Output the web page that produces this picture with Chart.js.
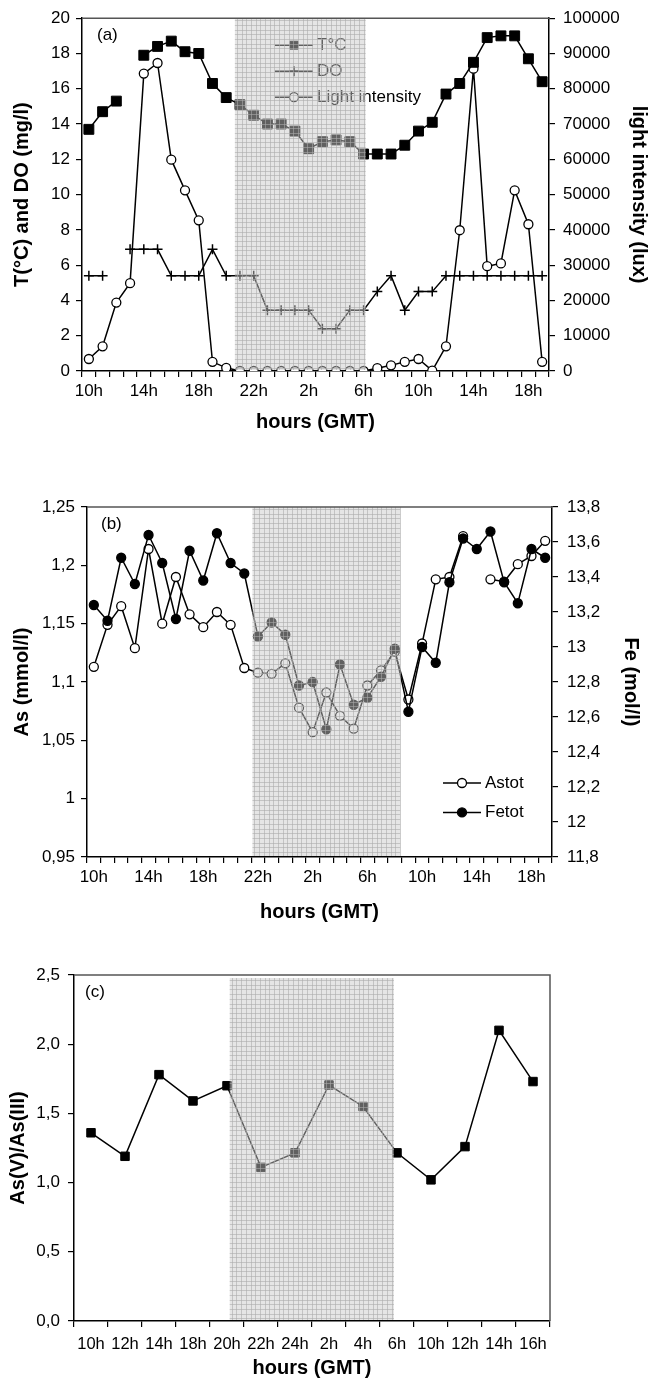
<!DOCTYPE html>
<html>
<head>
<meta charset="utf-8">
<script src="https://cdn.jsdelivr.net/npm/chart.js@4.4.0/dist/chart.umd.min.js"></script>
<style>
  body { margin: 0; background: #fff; }
  canvas { position: absolute; left: 0; }
</style>
</head>
<body>
<canvas id="chart-a" width="654" height="440" style="top:0px"></canvas>
<canvas id="chart-b" width="654" height="500" style="top:440px"></canvas>
<canvas id="chart-c" width="654" height="445" style="top:940px"></canvas>
<script>
//////////////////////////////////////////////// data
// (a) hourly, 10h day 1 -> 19h day 2
const hoursA = ['10h', '11h', '12h', '13h', '14h', '15h', '16h', '17h', '18h', '19h', '20h', '21h',
    '22h', '23h', '0h', '1h', '2h', '3h', '4h', '5h', '6h', '7h', '8h', '9h',
    '10h', '11h', '12h', '13h', '14h', '15h', '16h', '17h', '18h', '19h']
const tempA = [13.7, 14.7, 15.3, null, 17.9, 18.4, 18.7, 18.1, 18.0, 16.3, 15.5, 15.1,
    14.5, 14.0, 14.0, 13.6, 12.6, 13.0, 13.1, 13.0, 12.3, 12.3, 12.3, 12.8,
    13.6, 14.1, 15.7, 16.3, 17.5, 18.9, 19.0, 19.0, 17.7, 16.4]
const doA = [5.4, 5.4, null, 6.9, 6.9, 6.9, 5.4, 5.4, 5.4, 6.9, 5.4, 5.4,
    5.4, 3.45, 3.45, 3.45, 3.45, 2.4, 2.4, 3.45, 3.45, 4.5, 5.4, 3.45,
    4.5, 4.5, 5.4, 5.4, 5.4, 5.4, 5.4, 5.4, 5.4, 5.4]
const lightA = [3400, 7000, 19400, 24900, 84300, 87300, 59900, 51200, 42700, 2600, 900, 0,
    0, 0, 0, 0, 0, 0, 0, 0, 0, 800, 1600, 2600,
    3400, 100, 7000, 39900, 85700, 29700, 30500, 51200, 41600, 2600]
const nightA = [10.63, 20.15]

// (b)
const hoursB = hoursA
const asB = [1.113, 1.149, 1.165, 1.129, 1.214, 1.150, 1.190, 1.158, 1.147, 1.160, 1.149, 1.112,
    1.108, 1.107, 1.116, 1.078, 1.057, 1.091, 1.071, 1.060, 1.097, 1.110, 1.126, 1.085,
    1.133, 1.188, 1.190, 1.225, null, 1.188, 1.186, 1.201, 1.208, 1.221]
const feB = [13.24, 13.15, 13.51, 13.36, 13.64, 13.48, 13.16, 13.55, 13.38, 13.65, 13.48, 13.42,
    13.06, 13.14, 13.07, 12.78, 12.80, 12.53, 12.90, 12.67, 12.71, 12.83, 12.99, 12.63,
    13.00, 12.91, 13.37, 13.62, 13.56, 13.66, 13.37, 13.25, 13.56, 13.51]
const nightB = [11.6, 22.4]

// (c)
const hoursC = ['10h', '12h', '14h', '18h', '20h', '22h', '24h', '2h', '4h', '6h', '10h', '12h', '14h', '16h']
const ratioC = [1.36, 1.19, 1.78, 1.59, 1.70, 1.11, 1.215, 1.705, 1.55, 1.215, 1.02, 1.26, 2.10, 1.73]
const nightC = [4.08, 8.91]


//////////////////////////////////////////////// helpers
Chart.defaults.font.family = "'Liberation Sans', Arial, Helvetica, sans-serif"
Chart.defaults.color = '#000'

const fmtComma = v => String(Math.round(v * 1000) / 1000).replace('.', ',')
const fmtOne = v => v.toFixed(1).replace('.', ',')

function legendMark(ctx, ds, x0, x1, y) {
    ctx.strokeStyle = ds.borderColor
    ctx.lineWidth = ds.borderWidth
    ctx.beginPath(); ctx.moveTo(x0, y); ctx.lineTo(x1, y); ctx.stroke()
    ctx.fillStyle = ds.pointBackgroundColor || '#000'
    ctx.strokeStyle = ds.pointBorderColor
    ctx.lineWidth = ds.pointBorderWidth
    const r = ds.pointStyle === 'rect' ? ds.pointRadius * 0.8 : ds.pointRadius
    Chart.helpers.drawPoint(ctx, {
        pointStyle: ds.pointStyle, radius: r,
        borderWidth: ds.pointBorderWidth, rotation: 0
    }, (x0 + x1) / 2, y)
}

// night shading (drawn over the lines, so they turn grey), legend, frame, panel tag
const nightPlugin = {
    id: 'night',
    afterDatasetsDraw(chart, args, o) {
        const { ctx, chartArea: a } = chart
        const x = chart.scales.x
        ctx.save()
        if (o.legend) {
            const L = o.legend
            ctx.font = '17px ' + Chart.defaults.font.family
            ctx.textBaseline = 'middle'
            ctx.textAlign = 'left'
            L.items.forEach((idx, k) => {
                const ds = chart.data.datasets[idx]
                const y = a.top + L.top + k * L.gap
                const x0 = a.left + L.left
                legendMark(ctx, ds, x0, x0 + 38, y)
                ctx.fillStyle = '#000'
                ctx.fillText(ds.label, x0 + 42, y)
            })
        }
        const x0 = x.getPixelForValue(o.from)
        const x1 = x.getPixelForValue(o.to)
        const top = a.top + (o.inset || 0)
        const bot = a.bottom - 1
        ctx.fillStyle = 'rgba(200,200,200,0.48)'
        ctx.fillRect(x0, top, x1 - x0, bot - top)
        ctx.strokeStyle = 'rgba(170,170,170,0.58)'
        ctx.lineWidth = 1
        ctx.beginPath()
        for (let gx = x0 + 2; gx < x1; gx += 4.7) {
            const px = Math.round(gx) + 0.5
            ctx.moveTo(px, top); ctx.lineTo(px, bot)
        }
        for (let gy = top + 2; gy < bot; gy += 4.7) {
            const py = Math.round(gy) + 0.5
            ctx.moveTo(x0, py); ctx.lineTo(x1, py)
        }
        ctx.stroke()
        ctx.restore()
    },
    afterDraw(chart, args, o) {
        const { ctx, chartArea: a } = chart
        ctx.save()
        ctx.strokeStyle = '#555'
        ctx.lineWidth = 1.5
        ctx.beginPath()
        ctx.moveTo(a.left, a.top); ctx.lineTo(a.right, a.top)
        if (o.frameRight) { ctx.lineTo(a.right, a.bottom) }
        ctx.stroke()
        ctx.fillStyle = '#000'
        ctx.font = '17px ' + Chart.defaults.font.family
        ctx.textBaseline = 'middle'
        ctx.fillText(o.tag, a.left + o.tagX, a.top + 17)
        ctx.restore()
    }
}

function yAxis(pos, min, max, step, fmt, title, width, pad, titlePad) {
    return {
        position: pos, min: min, max: max,
        ticks: { stepSize: step, callback: fmt, padding: pad, font: { size: 17 }, color: '#000' },
        grid: { drawOnChartArea: false, tickLength: 6, color: '#000', lineWidth: 1.2 },
        border: { color: '#000', width: 1.5 },
        title: { display: true, text: title, color: '#000', font: { size: 20, weight: 'bold' }, padding: { top: titlePad, bottom: 0 } },
        afterFit: s => { s.width = width }
    }
}

function xAxis(labels, every, height, fontSize, pad, titlePad) {
    return {
        offset: true,
        grid: { offset: true, drawOnChartArea: false, tickLength: 6, color: '#000', lineWidth: 1.2 },
        border: { color: '#000', width: 1.5 },
        ticks: {
            autoSkip: false, maxRotation: 0, padding: pad, font: { size: fontSize }, color: '#000',
            callback: (v, i) => i % every ? '' : labels[i]
        },
        title: { display: true, text: 'hours (GMT)', color: '#000', font: { size: 20, weight: 'bold' }, padding: { top: 0, bottom: titlePad } },
        afterFit: s => { s.height = height }
    }
}

const line = { borderColor: '#000', borderWidth: 1.5, pointBorderColor: '#000', tension: 0 }


//////////////////////////////////////////////// Chart-a
new Chart(document.getElementById('chart-a'), {
    type: 'line',
    data: {
        labels: hoursA,
        datasets: [
            { ...line, label: 'T°C', data: tempA, yAxisID: 'y', pointStyle: 'rect', pointRadius: 7,
              pointBackgroundColor: '#000', pointBorderWidth: 1 },
            { ...line, label: 'DO', data: doA, yAxisID: 'y', pointStyle: 'cross', pointRadius: 5,
              pointBorderWidth: 1.5 },
            { ...line, label: 'Light intensity', data: lightA, yAxisID: 'y2', pointStyle: 'circle', pointRadius: 4.5,
              pointBackgroundColor: '#fff', pointBorderWidth: 1.3 }
        ]
    },
    options: {
        responsive: false, animation: false, events: [],
        layout: { padding: { top: 16, left: 0, right: 0, bottom: 0 } },
        scales: {
            x: xAxis(hoursA, 4, 69, 17, 4, 6),
            y: yAxis('left', 0, 20, 2, v => v, 'T(°C) and DO (mg/l)', 82, 6, 10),
            y2: yAxis('right', 0, 100000, 10000, v => v, 'light intensity (lux)', 105, 8, 3)
        },
        plugins: {
            legend: { display: false },
            tooltip: { enabled: false },
            night: { from: nightA[0], to: nightA[1], tag: '(a)', tagX: 15,
                     legend: { items: [0, 1, 2], left: 193, top: 27, gap: 26 } }
        }
    },
    plugins: [nightPlugin]
});


//////////////////////////////////////////////// Chart-b
new Chart(document.getElementById('chart-b'), {
    type: 'line',
    data: {
        labels: hoursB,
        datasets: [
            { ...line, label: 'Astot', data: asB, yAxisID: 'y', order: 1, pointStyle: 'circle', pointRadius: 4.5,
              pointBackgroundColor: '#fff', pointBorderWidth: 1.3 },
            { ...line, label: 'Fetot', data: feB, yAxisID: 'y2', order: 0, pointStyle: 'circle', pointRadius: 4.5,
              pointBackgroundColor: '#000', pointBorderWidth: 1.3 }
        ]
    },
    options: {
        responsive: false, animation: false, events: [],
        layout: { padding: { top: 67, left: 0, right: 0, bottom: 0 } },
        scales: {
            x: xAxis(hoursB, 4, 83, 17, 4, 16),
            y: yAxis('left', 0.95, 1.25, 0.05, fmtComma, 'As (mmol/l)', 87, 6, 10),
            y2: yAxis('right', 11.8, 13.8, 0.2, fmtComma, 'Fe (mol/l)', 102, 9, 11)
        },
        plugins: {
            legend: { display: false },
            tooltip: { enabled: false },
            night: { from: nightB[0], to: nightB[1], tag: '(b)', tagX: 14,
                     legend: { items: [0, 1], left: 356, top: 276, gap: 29.4 } }
        }
    },
    plugins: [nightPlugin]
});


//////////////////////////////////////////////// Chart-c
new Chart(document.getElementById('chart-c'), {
    type: 'line',
    data: {
        labels: hoursC,
        datasets: [
            { ...line, label: 'As(V)/As(III)', data: ratioC, pointStyle: 'rect', pointRadius: 6,
              pointBackgroundColor: '#000', pointBorderWidth: 1 }
        ]
    },
    options: {
        responsive: false, animation: false, events: [],
        layout: { padding: { top: 35, left: 0, right: 104, bottom: 0 } },
        scales: {
            x: xAxis(hoursC, 1, 64, 16.5, 8, 5),
            y: yAxis('left', 0, 2.5, 0.5, fmtOne, 'As(V)/As(III)', 74, 8, 6)
        },
        plugins: {
            legend: { display: false },
            tooltip: { enabled: false },
            night: { from: nightC[0], to: nightC[1], tag: '(c)', tagX: 11, inset: 3, frameRight: true }
        }
    },
    plugins: [nightPlugin]
});
</script>
</body>
</html>
